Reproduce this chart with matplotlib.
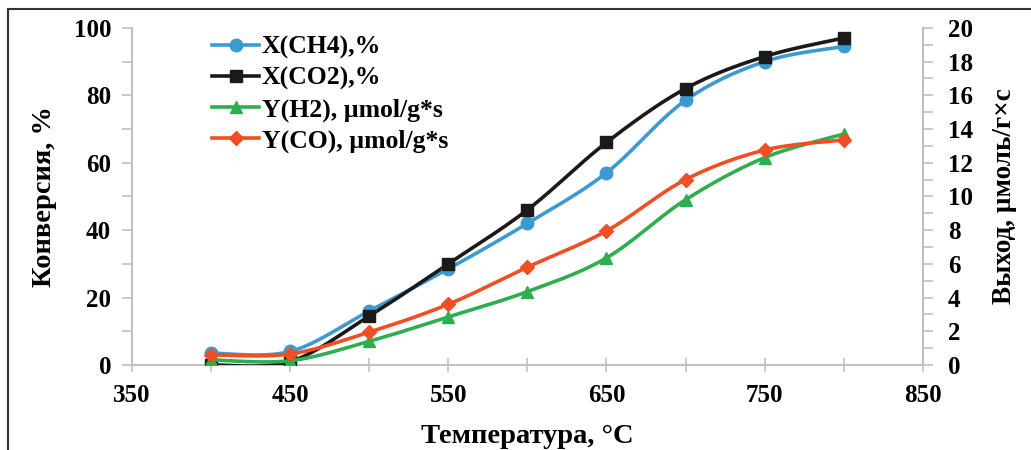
import numpy as np
import matplotlib.pyplot as plt
from matplotlib.lines import Line2D

plt.rcParams['font.family'] = ['Liberation Serif', 'DejaVu Serif']
plt.rcParams['font.weight'] = 'bold'

# данные
temp = [400, 450, 500, 550, 600, 650, 700, 750, 800]
x_ch4 = [3.5, 4.0, 16.0, 28.5, 42.0, 57.0, 78.5, 90.0, 94.5]
x_co2 = [0.0, 1.0, 14.5, 30.0, 46.0, 66.0, 82.0, 91.5, 97.0]
y_h2 = [0.3, 0.25, 1.4, 2.85, 4.35, 6.35, 9.8, 12.3, 13.7]
y_co = [0.6, 0.65, 1.95, 3.6, 5.8, 7.95, 11.0, 12.75, 13.35]


def smooth(x, y, n=30):
    # сглаживание как в Excel (кривые Безье)
    x = np.asarray(x, float)
    y = np.asarray(y, float)
    xs, ys = [], []
    for i in range(len(x) - 1):
        p0 = np.array([x[max(i - 1, 0)], y[max(i - 1, 0)]])
        p1 = np.array([x[i], y[i]])
        p2 = np.array([x[i + 1], y[i + 1]])
        p3 = np.array([x[min(i + 2, len(x) - 1)], y[min(i + 2, len(x) - 1)]])
        c1 = p1 + (p2 - p0) / 6
        c2 = p2 - (p3 - p1) / 6
        t = np.linspace(0, 1, n)[:, None]
        pts = ((1 - t) ** 3 * p1 + 3 * (1 - t) ** 2 * t * c1
               + 3 * (1 - t) * t ** 2 * c2 + t ** 3 * p2)
        xs.extend(pts[:, 0])
        ys.extend(pts[:, 1])
    return xs, ys


fig = plt.figure(figsize=(10.31, 4.5), dpi=100)
ax = fig.add_axes([0.128, 0.189, 0.767, 0.749])
ax2 = ax.twinx()

series = [
    (ax, x_ch4, '#3d9ad1', 'o', 'X(CH4),%'),
    (ax, x_co2, '#1a1a1a', 's', 'X(CO2),%'),
    (ax2, y_h2, '#2eae4f', '^', 'Y(H2), µmol/g*s'),
    (ax2, y_co, '#f04e23', 'D', 'Y(CO), µmol/g*s'),
]
handles = []
for a, vals, col, mk, lab in series:
    sx, sy = smooth(temp, vals)
    a.plot(sx, sy, color=col, lw=2.6, zorder=3)
    ms = 7.5 if mk == 'D' else 9
    a.plot(temp, vals, ls='none', marker=mk, color=col, ms=ms, zorder=4)
    handles.append(Line2D([], [], color=col, lw=2.6, marker=mk, ms=ms, label=lab))

ax.set_xlim(350, 850)
ax.set_ylim(0, 100)
ax2.set_ylim(0, 20)
ax.set_xticks(range(350, 851, 100))
ax.set_xticks(range(350, 851, 50), minor=True)
ax.set_yticks(range(0, 101, 20))
ax.set_yticks(range(0, 101, 10), minor=True)
ax2.set_yticks(range(0, 21, 2))
ax2.set_yticks(range(0, 21, 1), minor=True)

for a in (ax, ax2):
    for s in a.spines.values():
        s.set_visible(False)
    a.tick_params(which='both', color='#c0c0c0', width=1.2, labelsize=18)
ax.spines['left'].set_visible(True)
ax.spines['bottom'].set_visible(True)
ax2.spines['right'].set_visible(True)
for s in ('left', 'bottom'):
    ax.spines[s].set_color('#c0c0c0')
    ax.spines[s].set_linewidth(1.5)
ax2.spines['right'].set_color('#c0c0c0')
ax2.spines['right'].set_linewidth(1.5)
ax.tick_params(axis='x', which='both', direction='inout', length=10, pad=9)
ax.tick_params(axis='y', which='both', direction='out', length=7, pad=8)
ax2.tick_params(axis='y', which='both', direction='out', length=7, pad=11)

ax.set_xlabel('Температура, °C', fontsize=20.5, fontweight='bold', labelpad=12)
ax.set_ylabel('Конверсия, %', fontsize=20.5, fontweight='bold', labelpad=12)
ax2.set_ylabel('Выход, µмоль/г×с', fontsize=19.5, fontweight='bold', labelpad=14)

ax.legend(handles=handles, loc='upper left', bbox_to_anchor=(0.088, 1.007),
          frameon=False, fontsize=18.5, handlelength=1.85, handletextpad=0.1,
          labelspacing=0.3, borderaxespad=0)

# рамка рисунка
fig.add_artist(Line2D([0.008, 0.008], [0, 0.98], color='#333333', lw=1.5))
fig.add_artist(Line2D([0.008, 1.0], [0.98, 0.98], color='#333333', lw=1.5))

fig.savefig('out.png', dpi=100)
